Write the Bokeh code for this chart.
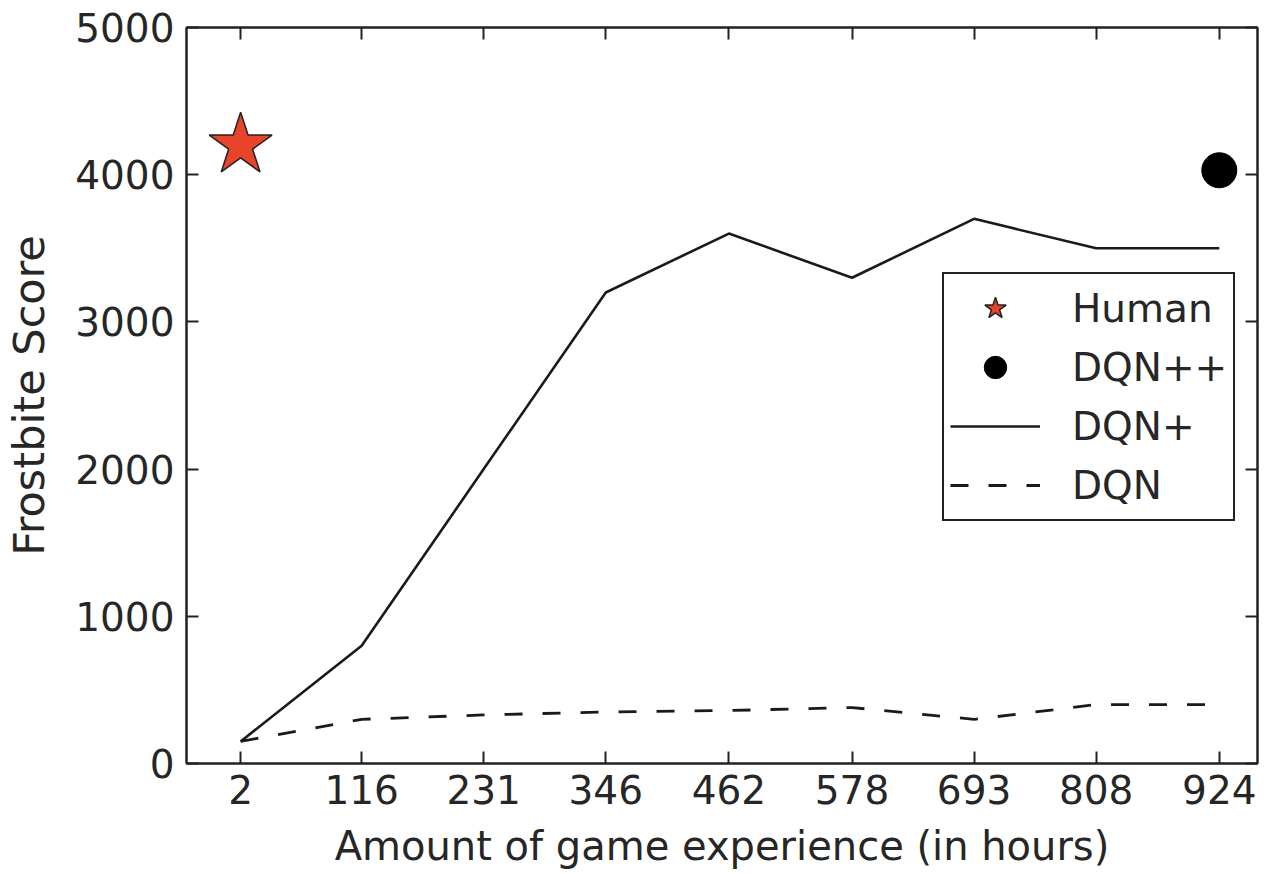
from bokeh.plotting import figure
from bokeh.models import (Range1d, FixedTicker, LinearAxis, Legend, LegendItem,
                          CustomJSTickFormatter, CustomLabelingPolicy)
from bokeh.embed import file_html
from bokeh.resources import INLINE

# ---- data ----
hours = [2, 116, 231, 346, 462, 578, 693, 808, 924]
dqn_plus = [150, 800, 2000, 3200, 3600, 3300, 3700, 3500, 3500]
dqn = [150, 300, 330, 350, 360, 380, 300, 400, 400]
human_x = [2]
human_y = [4200]
dqnpp_x = [924]
dqnpp_y = [4030]
y_ticks = [0, 1000, 2000, 3000, 4000, 5000]

FONT = "DejaVu Sans"
TXT = "#262626"
LINE = "#222222"

p = figure(width=1262, height=874, output_backend="svg", toolbar_location=None,
           x_range=Range1d(-49, 960), y_range=Range1d(0, 5000),
           min_border_left=186, min_border_right=5, min_border_top=27,
           min_border_bottom=111)
p.background_fill_color = "white"
p.border_fill_color = "white"
p.grid.visible = False
p.outline_line_color = LINE
p.outline_line_width = 2

p.xaxis.ticker = FixedTicker(ticks=hours)
p.yaxis.ticker = FixedTicker(ticks=y_ticks)
p.xaxis.axis_label = "Amount of game experience (in hours)"
p.yaxis.axis_label = "Frostbite Score"


def style_ticks(ax):
    ax.major_tick_in = 12
    ax.major_tick_out = 0
    ax.minor_tick_in = 0
    ax.minor_tick_out = 0
    ax.axis_line_color = LINE
    ax.axis_line_width = 2
    ax.major_tick_line_color = LINE
    ax.major_tick_line_width = 2


for ax in (p.xaxis[0], p.yaxis[0]):
    style_ticks(ax)
    ax.major_label_text_font = FONT
    ax.major_label_text_font_size = "39px"
    ax.major_label_text_color = TXT
    ax.axis_label_text_font = FONT
    ax.axis_label_text_font_style = "normal"
    ax.axis_label_text_color = TXT

p.xaxis.major_label_standoff = 11
p.xaxis.axis_label_text_font_size = "40px"
p.xaxis.axis_label_standoff = 16
p.yaxis.major_label_standoff = 12
p.yaxis.axis_label_text_font_size = "43px"
p.yaxis.axis_label_standoff = 18

# tick marks (no labels) on the top and right edges
no_labels = CustomLabelingPolicy(code="""
const all = [...indices];
for (const i of all) { indices.unset(i); }
return indices;
""")
top = LinearAxis(ticker=FixedTicker(ticks=hours),
                 formatter=CustomJSTickFormatter(code="return ''"))
right = LinearAxis(ticker=FixedTicker(ticks=y_ticks),
                   formatter=CustomJSTickFormatter(code="return ''"))
for ax in (top, right):
    style_ticks(ax)
    ax.major_label_policy = no_labels
    ax.major_label_text_font_size = "1px"
    ax.major_label_standoff = 0
p.add_layout(top, "above")
p.add_layout(right, "right")

# ---- data marks ----
r_plus = p.line(hours, dqn_plus, line_color="#1a1a1a", line_width=2.6)
r_dqn = p.line(hours, dqn, line_color="#1a1a1a", line_width=2.8, line_dash="18 20")
r_human = p.scatter(human_x, human_y, marker="star", size=66,
                    fill_color="#e8432b", line_color=LINE, line_width=1.5)
r_pp = p.scatter(dqnpp_x, dqnpp_y, marker="circle", size=35,
                 fill_color="black", line_color="black")

legend = Legend(items=[
    LegendItem(label="Human", renderers=[r_human]),
    LegendItem(label="DQN++", renderers=[r_pp]),
    LegendItem(label="DQN+", renderers=[r_plus]),
    LegendItem(label="DQN", renderers=[r_dqn]),
], location=(756, 242))
legend.glyph_width = 90
legend.glyph_height = 56
legend.label_height = 56
legend.spacing = 3
legend.padding = 6
legend.margin = 0
legend.label_standoff = 32
legend.label_text_font = FONT
legend.label_text_font_size = "39px"
legend.label_text_color = TXT
legend.border_line_color = LINE
legend.border_line_width = 2
legend.border_line_alpha = 1
legend.background_fill_color = "white"
legend.background_fill_alpha = 1
p.add_layout(legend, "center")

open("out.html", "w").write(file_html(p, INLINE))
